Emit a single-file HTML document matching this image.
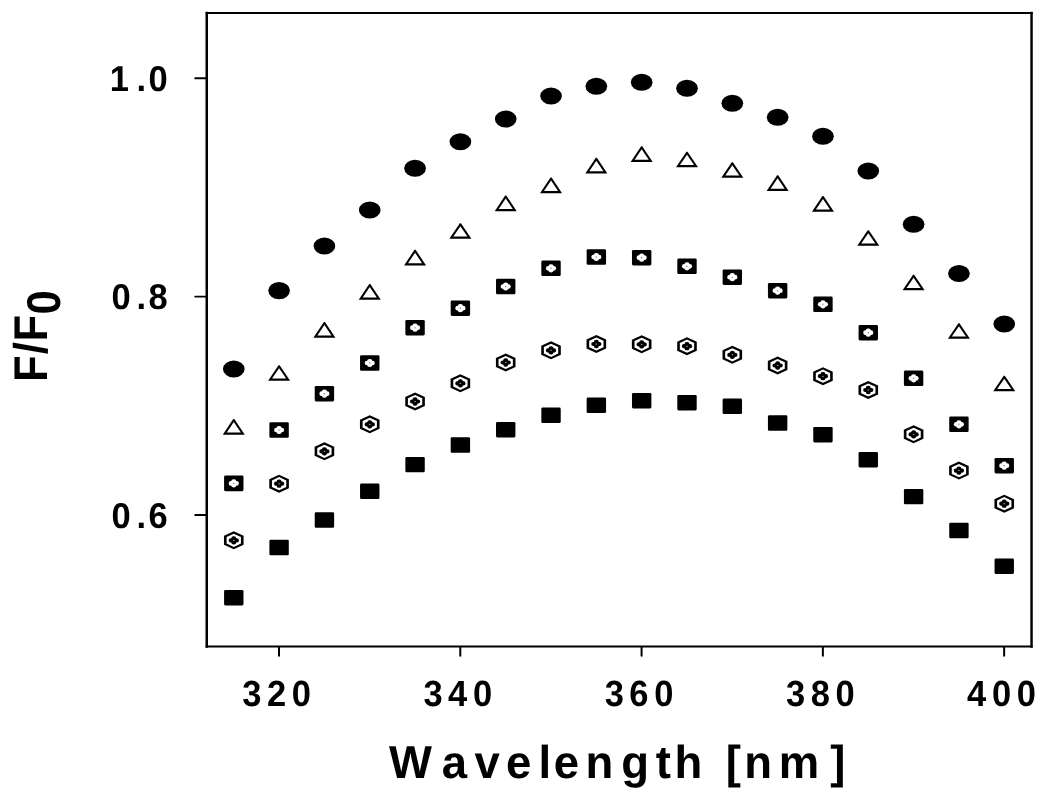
<!DOCTYPE html>
<html lang="en">
<head>
<meta charset="utf-8">
<title>F/F0 vs Wavelength</title>
<style>
html,body{margin:0;padding:0;background:#fff;}
body{width:1050px;height:798px;overflow:hidden;}
svg{display:block;}
text{font-family:"Liberation Sans",Arial,Helvetica,sans-serif;font-weight:bold;fill:#000;font-kerning:none;text-rendering:geometricPrecision;}
.tk{font-size:34.5px;}
.tt{font-size:45.5px;}
</style>
</head>
<body>
<svg width="1050" height="798" viewBox="0 0 1050 798">
<rect width="1050" height="798" fill="#fff"/>

<g stroke="#000" fill="none">
<path d="M206.75,12.97 L206.75,646.45" stroke-width="2.5" stroke-linecap="square"/>
<path d="M206.75,646.45 L1031.55,646.45" stroke-width="2.1" stroke-linecap="square"/>
<path d="M206.75,12.97 L1031.55,12.97" stroke-width="2.05" stroke-linecap="square"/>
<path d="M1031.55,12.97 L1031.55,646.45" stroke-width="2.45" stroke-linecap="square"/>
<line x1="195.2" y1="78.3" x2="206" y2="78.3" stroke-width="1.9" stroke-linecap="round"/>
<line x1="195.2" y1="296.6" x2="206" y2="296.6" stroke-width="1.9" stroke-linecap="round"/>
<line x1="195.2" y1="515.0" x2="206" y2="515.0" stroke-width="1.9" stroke-linecap="round"/>
<line x1="279.00" y1="647" x2="279.00" y2="655.8" stroke-width="2" stroke-linecap="round"/>
<line x1="460.29" y1="647" x2="460.29" y2="655.8" stroke-width="2" stroke-linecap="round"/>
<line x1="641.58" y1="647" x2="641.58" y2="655.8" stroke-width="2" stroke-linecap="round"/>
<line x1="822.86" y1="647" x2="822.86" y2="655.8" stroke-width="2" stroke-linecap="round"/>
<line x1="1004.15" y1="647" x2="1004.15" y2="655.8" stroke-width="2" stroke-linecap="round"/>
</g>
<g class="circles">
<g transform="translate(233.78,369.0)"><ellipse cx="0" cy="0" rx="10.85" ry="8.55" fill="#000"/></g>
<g transform="translate(279.10,290.6)"><ellipse cx="0" cy="0" rx="10.85" ry="8.55" fill="#000"/></g>
<g transform="translate(324.42,246.0)"><ellipse cx="0" cy="0" rx="10.85" ry="8.55" fill="#000"/></g>
<g transform="translate(369.75,210.0)"><ellipse cx="0" cy="0" rx="10.85" ry="8.55" fill="#000"/></g>
<g transform="translate(415.07,168.3)"><ellipse cx="0" cy="0" rx="10.85" ry="8.55" fill="#000"/></g>
<g transform="translate(460.39,141.7)"><ellipse cx="0" cy="0" rx="10.85" ry="8.55" fill="#000"/></g>
<g transform="translate(505.71,119.0)"><ellipse cx="0" cy="0" rx="10.85" ry="8.55" fill="#000"/></g>
<g transform="translate(551.03,96.0)"><ellipse cx="0" cy="0" rx="10.85" ry="8.55" fill="#000"/></g>
<g transform="translate(596.35,86.2)"><ellipse cx="0" cy="0" rx="10.85" ry="8.55" fill="#000"/></g>
<g transform="translate(641.68,82.3)"><ellipse cx="0" cy="0" rx="10.85" ry="8.55" fill="#000"/></g>
<g transform="translate(687.00,88.3)"><ellipse cx="0" cy="0" rx="10.85" ry="8.55" fill="#000"/></g>
<g transform="translate(732.32,103.3)"><ellipse cx="0" cy="0" rx="10.85" ry="8.55" fill="#000"/></g>
<g transform="translate(777.64,117.3)"><ellipse cx="0" cy="0" rx="10.85" ry="8.55" fill="#000"/></g>
<g transform="translate(822.96,136.3)"><ellipse cx="0" cy="0" rx="10.85" ry="8.55" fill="#000"/></g>
<g transform="translate(868.28,171.0)"><ellipse cx="0" cy="0" rx="10.85" ry="8.55" fill="#000"/></g>
<g transform="translate(913.61,224.3)"><ellipse cx="0" cy="0" rx="10.85" ry="8.55" fill="#000"/></g>
<g transform="translate(958.93,273.5)"><ellipse cx="0" cy="0" rx="10.85" ry="8.55" fill="#000"/></g>
<g transform="translate(1004.25,324.0)"><ellipse cx="0" cy="0" rx="10.85" ry="8.55" fill="#000"/></g>
</g>
<g class="triangles">
<g transform="translate(233.78,426.8)"><polygon points="-0.55,-7.85 0.55,-7.85 10.85,7.6 10.6,7.85 -10.6,7.85 -10.85,7.6" fill="#000"/><polygon points="0,-4.85 7.05,5.6 -7.05,5.6" fill="#fff"/></g>
<g transform="translate(279.10,373.0)"><polygon points="-0.55,-7.85 0.55,-7.85 10.85,7.6 10.6,7.85 -10.6,7.85 -10.85,7.6" fill="#000"/><polygon points="0,-4.85 7.05,5.6 -7.05,5.6" fill="#fff"/></g>
<g transform="translate(324.42,329.8)"><polygon points="-0.55,-7.85 0.55,-7.85 10.85,7.6 10.6,7.85 -10.6,7.85 -10.85,7.6" fill="#000"/><polygon points="0,-4.85 7.05,5.6 -7.05,5.6" fill="#fff"/></g>
<g transform="translate(369.75,291.8)"><polygon points="-0.55,-7.85 0.55,-7.85 10.85,7.6 10.6,7.85 -10.6,7.85 -10.85,7.6" fill="#000"/><polygon points="0,-4.85 7.05,5.6 -7.05,5.6" fill="#fff"/></g>
<g transform="translate(415.07,257.6)"><polygon points="-0.55,-7.85 0.55,-7.85 10.85,7.6 10.6,7.85 -10.6,7.85 -10.85,7.6" fill="#000"/><polygon points="0,-4.85 7.05,5.6 -7.05,5.6" fill="#fff"/></g>
<g transform="translate(460.39,231.0)"><polygon points="-0.55,-7.85 0.55,-7.85 10.85,7.6 10.6,7.85 -10.6,7.85 -10.85,7.6" fill="#000"/><polygon points="0,-4.85 7.05,5.6 -7.05,5.6" fill="#fff"/></g>
<g transform="translate(505.71,203.3)"><polygon points="-0.55,-7.85 0.55,-7.85 10.85,7.6 10.6,7.85 -10.6,7.85 -10.85,7.6" fill="#000"/><polygon points="0,-4.85 7.05,5.6 -7.05,5.6" fill="#fff"/></g>
<g transform="translate(551.03,185.3)"><polygon points="-0.55,-7.85 0.55,-7.85 10.85,7.6 10.6,7.85 -10.6,7.85 -10.85,7.6" fill="#000"/><polygon points="0,-4.85 7.05,5.6 -7.05,5.6" fill="#fff"/></g>
<g transform="translate(596.35,165.7)"><polygon points="-0.55,-7.85 0.55,-7.85 10.85,7.6 10.6,7.85 -10.6,7.85 -10.85,7.6" fill="#000"/><polygon points="0,-4.85 7.05,5.6 -7.05,5.6" fill="#fff"/></g>
<g transform="translate(641.68,154.2)"><polygon points="-0.55,-7.85 0.55,-7.85 10.85,7.6 10.6,7.85 -10.6,7.85 -10.85,7.6" fill="#000"/><polygon points="0,-4.85 7.05,5.6 -7.05,5.6" fill="#fff"/></g>
<g transform="translate(687.00,159.5)"><polygon points="-0.55,-7.85 0.55,-7.85 10.85,7.6 10.6,7.85 -10.6,7.85 -10.85,7.6" fill="#000"/><polygon points="0,-4.85 7.05,5.6 -7.05,5.6" fill="#fff"/></g>
<g transform="translate(732.32,170.0)"><polygon points="-0.55,-7.85 0.55,-7.85 10.85,7.6 10.6,7.85 -10.6,7.85 -10.85,7.6" fill="#000"/><polygon points="0,-4.85 7.05,5.6 -7.05,5.6" fill="#fff"/></g>
<g transform="translate(777.64,183.2)"><polygon points="-0.55,-7.85 0.55,-7.85 10.85,7.6 10.6,7.85 -10.6,7.85 -10.85,7.6" fill="#000"/><polygon points="0,-4.85 7.05,5.6 -7.05,5.6" fill="#fff"/></g>
<g transform="translate(822.96,203.8)"><polygon points="-0.55,-7.85 0.55,-7.85 10.85,7.6 10.6,7.85 -10.6,7.85 -10.85,7.6" fill="#000"/><polygon points="0,-4.85 7.05,5.6 -7.05,5.6" fill="#fff"/></g>
<g transform="translate(868.28,238.0)"><polygon points="-0.55,-7.85 0.55,-7.85 10.85,7.6 10.6,7.85 -10.6,7.85 -10.85,7.6" fill="#000"/><polygon points="0,-4.85 7.05,5.6 -7.05,5.6" fill="#fff"/></g>
<g transform="translate(913.61,282.5)"><polygon points="-0.55,-7.85 0.55,-7.85 10.85,7.6 10.6,7.85 -10.6,7.85 -10.85,7.6" fill="#000"/><polygon points="0,-4.85 7.05,5.6 -7.05,5.6" fill="#fff"/></g>
<g transform="translate(958.93,331.0)"><polygon points="-0.55,-7.85 0.55,-7.85 10.85,7.6 10.6,7.85 -10.6,7.85 -10.85,7.6" fill="#000"/><polygon points="0,-4.85 7.05,5.6 -7.05,5.6" fill="#fff"/></g>
<g transform="translate(1004.25,383.5)"><polygon points="-0.55,-7.85 0.55,-7.85 10.85,7.6 10.6,7.85 -10.6,7.85 -10.85,7.6" fill="#000"/><polygon points="0,-4.85 7.05,5.6 -7.05,5.6" fill="#fff"/></g>
</g>
<g class="dotsquares">
<g transform="translate(233.78,483.4)"><rect x="-9.7" y="-7.8" width="19.4" height="15.6" rx="1.4" fill="#000"/><rect x="-5.05" y="-2.35" width="10.1" height="4.7" rx="2.3" fill="#fff"/><rect x="-2.6" y="-4.1" width="5.2" height="8.2" rx="2.4" fill="#fff"/><circle cx="-0.1" cy="0" r="0.75" fill="#8a8a8a"/></g>
<g transform="translate(279.10,430.0)"><rect x="-9.7" y="-7.8" width="19.4" height="15.6" rx="1.4" fill="#000"/><rect x="-5.05" y="-2.35" width="10.1" height="4.7" rx="2.3" fill="#fff"/><rect x="-2.6" y="-4.1" width="5.2" height="8.2" rx="2.4" fill="#fff"/><circle cx="-0.1" cy="0" r="0.75" fill="#8a8a8a"/></g>
<g transform="translate(324.42,393.7)"><rect x="-9.7" y="-7.8" width="19.4" height="15.6" rx="1.4" fill="#000"/><rect x="-5.05" y="-2.35" width="10.1" height="4.7" rx="2.3" fill="#fff"/><rect x="-2.6" y="-4.1" width="5.2" height="8.2" rx="2.4" fill="#fff"/><circle cx="-0.1" cy="0" r="0.75" fill="#8a8a8a"/></g>
<g transform="translate(369.75,363.0)"><rect x="-9.7" y="-7.8" width="19.4" height="15.6" rx="1.4" fill="#000"/><rect x="-5.05" y="-2.35" width="10.1" height="4.7" rx="2.3" fill="#fff"/><rect x="-2.6" y="-4.1" width="5.2" height="8.2" rx="2.4" fill="#fff"/><circle cx="-0.1" cy="0" r="0.75" fill="#8a8a8a"/></g>
<g transform="translate(415.07,327.7)"><rect x="-9.7" y="-7.8" width="19.4" height="15.6" rx="1.4" fill="#000"/><rect x="-5.05" y="-2.35" width="10.1" height="4.7" rx="2.3" fill="#fff"/><rect x="-2.6" y="-4.1" width="5.2" height="8.2" rx="2.4" fill="#fff"/><circle cx="-0.1" cy="0" r="0.75" fill="#8a8a8a"/></g>
<g transform="translate(460.39,308.2)"><rect x="-9.7" y="-7.8" width="19.4" height="15.6" rx="1.4" fill="#000"/><rect x="-5.05" y="-2.35" width="10.1" height="4.7" rx="2.3" fill="#fff"/><rect x="-2.6" y="-4.1" width="5.2" height="8.2" rx="2.4" fill="#fff"/><circle cx="-0.1" cy="0" r="0.75" fill="#8a8a8a"/></g>
<g transform="translate(505.71,286.5)"><rect x="-9.7" y="-7.8" width="19.4" height="15.6" rx="1.4" fill="#000"/><rect x="-5.05" y="-2.35" width="10.1" height="4.7" rx="2.3" fill="#fff"/><rect x="-2.6" y="-4.1" width="5.2" height="8.2" rx="2.4" fill="#fff"/><circle cx="-0.1" cy="0" r="0.75" fill="#8a8a8a"/></g>
<g transform="translate(551.03,268.3)"><rect x="-9.7" y="-7.8" width="19.4" height="15.6" rx="1.4" fill="#000"/><rect x="-5.05" y="-2.35" width="10.1" height="4.7" rx="2.3" fill="#fff"/><rect x="-2.6" y="-4.1" width="5.2" height="8.2" rx="2.4" fill="#fff"/><circle cx="-0.1" cy="0" r="0.75" fill="#8a8a8a"/></g>
<g transform="translate(596.35,257.0)"><rect x="-9.7" y="-7.8" width="19.4" height="15.6" rx="1.4" fill="#000"/><rect x="-5.05" y="-2.35" width="10.1" height="4.7" rx="2.3" fill="#fff"/><rect x="-2.6" y="-4.1" width="5.2" height="8.2" rx="2.4" fill="#fff"/><circle cx="-0.1" cy="0" r="0.75" fill="#8a8a8a"/></g>
<g transform="translate(641.68,257.7)"><rect x="-9.7" y="-7.8" width="19.4" height="15.6" rx="1.4" fill="#000"/><rect x="-5.05" y="-2.35" width="10.1" height="4.7" rx="2.3" fill="#fff"/><rect x="-2.6" y="-4.1" width="5.2" height="8.2" rx="2.4" fill="#fff"/><circle cx="-0.1" cy="0" r="0.75" fill="#8a8a8a"/></g>
<g transform="translate(687.00,266.3)"><rect x="-9.7" y="-7.8" width="19.4" height="15.6" rx="1.4" fill="#000"/><rect x="-5.05" y="-2.35" width="10.1" height="4.7" rx="2.3" fill="#fff"/><rect x="-2.6" y="-4.1" width="5.2" height="8.2" rx="2.4" fill="#fff"/><circle cx="-0.1" cy="0" r="0.75" fill="#8a8a8a"/></g>
<g transform="translate(732.32,277.2)"><rect x="-9.7" y="-7.8" width="19.4" height="15.6" rx="1.4" fill="#000"/><rect x="-5.05" y="-2.35" width="10.1" height="4.7" rx="2.3" fill="#fff"/><rect x="-2.6" y="-4.1" width="5.2" height="8.2" rx="2.4" fill="#fff"/><circle cx="-0.1" cy="0" r="0.75" fill="#8a8a8a"/></g>
<g transform="translate(777.64,290.7)"><rect x="-9.7" y="-7.8" width="19.4" height="15.6" rx="1.4" fill="#000"/><rect x="-5.05" y="-2.35" width="10.1" height="4.7" rx="2.3" fill="#fff"/><rect x="-2.6" y="-4.1" width="5.2" height="8.2" rx="2.4" fill="#fff"/><circle cx="-0.1" cy="0" r="0.75" fill="#8a8a8a"/></g>
<g transform="translate(822.96,304.3)"><rect x="-9.7" y="-7.8" width="19.4" height="15.6" rx="1.4" fill="#000"/><rect x="-5.05" y="-2.35" width="10.1" height="4.7" rx="2.3" fill="#fff"/><rect x="-2.6" y="-4.1" width="5.2" height="8.2" rx="2.4" fill="#fff"/><circle cx="-0.1" cy="0" r="0.75" fill="#8a8a8a"/></g>
<g transform="translate(868.28,332.7)"><rect x="-9.7" y="-7.8" width="19.4" height="15.6" rx="1.4" fill="#000"/><rect x="-5.05" y="-2.35" width="10.1" height="4.7" rx="2.3" fill="#fff"/><rect x="-2.6" y="-4.1" width="5.2" height="8.2" rx="2.4" fill="#fff"/><circle cx="-0.1" cy="0" r="0.75" fill="#8a8a8a"/></g>
<g transform="translate(913.61,378.3)"><rect x="-9.7" y="-7.8" width="19.4" height="15.6" rx="1.4" fill="#000"/><rect x="-5.05" y="-2.35" width="10.1" height="4.7" rx="2.3" fill="#fff"/><rect x="-2.6" y="-4.1" width="5.2" height="8.2" rx="2.4" fill="#fff"/><circle cx="-0.1" cy="0" r="0.75" fill="#8a8a8a"/></g>
<g transform="translate(958.93,424.3)"><rect x="-9.7" y="-7.8" width="19.4" height="15.6" rx="1.4" fill="#000"/><rect x="-5.05" y="-2.35" width="10.1" height="4.7" rx="2.3" fill="#fff"/><rect x="-2.6" y="-4.1" width="5.2" height="8.2" rx="2.4" fill="#fff"/><circle cx="-0.1" cy="0" r="0.75" fill="#8a8a8a"/></g>
<g transform="translate(1004.25,465.7)"><rect x="-9.7" y="-7.8" width="19.4" height="15.6" rx="1.4" fill="#000"/><rect x="-5.05" y="-2.35" width="10.1" height="4.7" rx="2.3" fill="#fff"/><rect x="-2.6" y="-4.1" width="5.2" height="8.2" rx="2.4" fill="#fff"/><circle cx="-0.1" cy="0" r="0.75" fill="#8a8a8a"/></g>
</g>
<g class="hexagons">
<g transform="translate(233.78,540.3)"><polygon points="0.00,-9.00 9.80,-4.50 9.80,4.50 0.00,9.00 -9.80,4.50 -9.80,-4.50" fill="#000"/><polygon points="0.00,-6.58 7.16,-3.29 7.16,3.29 0.00,6.58 -7.16,3.29 -7.16,-3.29" fill="#fff"/><rect x="-5.1" y="-2.1" width="10.2" height="4.2" rx="2.0" fill="#000"/><rect x="-2.45" y="-4.15" width="4.9" height="8.3" rx="2.2" fill="#000"/><ellipse cx="0" cy="0" rx="0.8" ry="0.5" fill="#c8c8c8"/></g>
<g transform="translate(279.10,483.7)"><polygon points="0.00,-9.00 9.80,-4.50 9.80,4.50 0.00,9.00 -9.80,4.50 -9.80,-4.50" fill="#000"/><polygon points="0.00,-6.58 7.16,-3.29 7.16,3.29 0.00,6.58 -7.16,3.29 -7.16,-3.29" fill="#fff"/><rect x="-5.1" y="-2.1" width="10.2" height="4.2" rx="2.0" fill="#000"/><rect x="-2.45" y="-4.15" width="4.9" height="8.3" rx="2.2" fill="#000"/><ellipse cx="0" cy="0" rx="0.8" ry="0.5" fill="#c8c8c8"/></g>
<g transform="translate(324.42,451.3)"><polygon points="0.00,-9.00 9.80,-4.50 9.80,4.50 0.00,9.00 -9.80,4.50 -9.80,-4.50" fill="#000"/><polygon points="0.00,-6.58 7.16,-3.29 7.16,3.29 0.00,6.58 -7.16,3.29 -7.16,-3.29" fill="#fff"/><rect x="-5.1" y="-2.1" width="10.2" height="4.2" rx="2.0" fill="#000"/><rect x="-2.45" y="-4.15" width="4.9" height="8.3" rx="2.2" fill="#000"/><ellipse cx="0" cy="0" rx="0.8" ry="0.5" fill="#c8c8c8"/></g>
<g transform="translate(369.75,424.3)"><polygon points="0.00,-9.00 9.80,-4.50 9.80,4.50 0.00,9.00 -9.80,4.50 -9.80,-4.50" fill="#000"/><polygon points="0.00,-6.58 7.16,-3.29 7.16,3.29 0.00,6.58 -7.16,3.29 -7.16,-3.29" fill="#fff"/><rect x="-5.1" y="-2.1" width="10.2" height="4.2" rx="2.0" fill="#000"/><rect x="-2.45" y="-4.15" width="4.9" height="8.3" rx="2.2" fill="#000"/><ellipse cx="0" cy="0" rx="0.8" ry="0.5" fill="#c8c8c8"/></g>
<g transform="translate(415.07,401.5)"><polygon points="0.00,-9.00 9.80,-4.50 9.80,4.50 0.00,9.00 -9.80,4.50 -9.80,-4.50" fill="#000"/><polygon points="0.00,-6.58 7.16,-3.29 7.16,3.29 0.00,6.58 -7.16,3.29 -7.16,-3.29" fill="#fff"/><rect x="-5.1" y="-2.1" width="10.2" height="4.2" rx="2.0" fill="#000"/><rect x="-2.45" y="-4.15" width="4.9" height="8.3" rx="2.2" fill="#000"/><ellipse cx="0" cy="0" rx="0.8" ry="0.5" fill="#c8c8c8"/></g>
<g transform="translate(460.39,383.3)"><polygon points="0.00,-9.00 9.80,-4.50 9.80,4.50 0.00,9.00 -9.80,4.50 -9.80,-4.50" fill="#000"/><polygon points="0.00,-6.58 7.16,-3.29 7.16,3.29 0.00,6.58 -7.16,3.29 -7.16,-3.29" fill="#fff"/><rect x="-5.1" y="-2.1" width="10.2" height="4.2" rx="2.0" fill="#000"/><rect x="-2.45" y="-4.15" width="4.9" height="8.3" rx="2.2" fill="#000"/><ellipse cx="0" cy="0" rx="0.8" ry="0.5" fill="#c8c8c8"/></g>
<g transform="translate(505.71,362.5)"><polygon points="0.00,-9.00 9.80,-4.50 9.80,4.50 0.00,9.00 -9.80,4.50 -9.80,-4.50" fill="#000"/><polygon points="0.00,-6.58 7.16,-3.29 7.16,3.29 0.00,6.58 -7.16,3.29 -7.16,-3.29" fill="#fff"/><rect x="-5.1" y="-2.1" width="10.2" height="4.2" rx="2.0" fill="#000"/><rect x="-2.45" y="-4.15" width="4.9" height="8.3" rx="2.2" fill="#000"/><ellipse cx="0" cy="0" rx="0.8" ry="0.5" fill="#c8c8c8"/></g>
<g transform="translate(551.03,350.3)"><polygon points="0.00,-9.00 9.80,-4.50 9.80,4.50 0.00,9.00 -9.80,4.50 -9.80,-4.50" fill="#000"/><polygon points="0.00,-6.58 7.16,-3.29 7.16,3.29 0.00,6.58 -7.16,3.29 -7.16,-3.29" fill="#fff"/><rect x="-5.1" y="-2.1" width="10.2" height="4.2" rx="2.0" fill="#000"/><rect x="-2.45" y="-4.15" width="4.9" height="8.3" rx="2.2" fill="#000"/><ellipse cx="0" cy="0" rx="0.8" ry="0.5" fill="#c8c8c8"/></g>
<g transform="translate(596.35,344.0)"><polygon points="0.00,-9.00 9.80,-4.50 9.80,4.50 0.00,9.00 -9.80,4.50 -9.80,-4.50" fill="#000"/><polygon points="0.00,-6.58 7.16,-3.29 7.16,3.29 0.00,6.58 -7.16,3.29 -7.16,-3.29" fill="#fff"/><rect x="-5.1" y="-2.1" width="10.2" height="4.2" rx="2.0" fill="#000"/><rect x="-2.45" y="-4.15" width="4.9" height="8.3" rx="2.2" fill="#000"/><ellipse cx="0" cy="0" rx="0.8" ry="0.5" fill="#c8c8c8"/></g>
<g transform="translate(641.68,344.3)"><polygon points="0.00,-9.00 9.80,-4.50 9.80,4.50 0.00,9.00 -9.80,4.50 -9.80,-4.50" fill="#000"/><polygon points="0.00,-6.58 7.16,-3.29 7.16,3.29 0.00,6.58 -7.16,3.29 -7.16,-3.29" fill="#fff"/><rect x="-5.1" y="-2.1" width="10.2" height="4.2" rx="2.0" fill="#000"/><rect x="-2.45" y="-4.15" width="4.9" height="8.3" rx="2.2" fill="#000"/><ellipse cx="0" cy="0" rx="0.8" ry="0.5" fill="#c8c8c8"/></g>
<g transform="translate(687.00,346.2)"><polygon points="0.00,-9.00 9.80,-4.50 9.80,4.50 0.00,9.00 -9.80,4.50 -9.80,-4.50" fill="#000"/><polygon points="0.00,-6.58 7.16,-3.29 7.16,3.29 0.00,6.58 -7.16,3.29 -7.16,-3.29" fill="#fff"/><rect x="-5.1" y="-2.1" width="10.2" height="4.2" rx="2.0" fill="#000"/><rect x="-2.45" y="-4.15" width="4.9" height="8.3" rx="2.2" fill="#000"/><ellipse cx="0" cy="0" rx="0.8" ry="0.5" fill="#c8c8c8"/></g>
<g transform="translate(732.32,354.8)"><polygon points="0.00,-9.00 9.80,-4.50 9.80,4.50 0.00,9.00 -9.80,4.50 -9.80,-4.50" fill="#000"/><polygon points="0.00,-6.58 7.16,-3.29 7.16,3.29 0.00,6.58 -7.16,3.29 -7.16,-3.29" fill="#fff"/><rect x="-5.1" y="-2.1" width="10.2" height="4.2" rx="2.0" fill="#000"/><rect x="-2.45" y="-4.15" width="4.9" height="8.3" rx="2.2" fill="#000"/><ellipse cx="0" cy="0" rx="0.8" ry="0.5" fill="#c8c8c8"/></g>
<g transform="translate(777.64,365.5)"><polygon points="0.00,-9.00 9.80,-4.50 9.80,4.50 0.00,9.00 -9.80,4.50 -9.80,-4.50" fill="#000"/><polygon points="0.00,-6.58 7.16,-3.29 7.16,3.29 0.00,6.58 -7.16,3.29 -7.16,-3.29" fill="#fff"/><rect x="-5.1" y="-2.1" width="10.2" height="4.2" rx="2.0" fill="#000"/><rect x="-2.45" y="-4.15" width="4.9" height="8.3" rx="2.2" fill="#000"/><ellipse cx="0" cy="0" rx="0.8" ry="0.5" fill="#c8c8c8"/></g>
<g transform="translate(822.96,376.2)"><polygon points="0.00,-9.00 9.80,-4.50 9.80,4.50 0.00,9.00 -9.80,4.50 -9.80,-4.50" fill="#000"/><polygon points="0.00,-6.58 7.16,-3.29 7.16,3.29 0.00,6.58 -7.16,3.29 -7.16,-3.29" fill="#fff"/><rect x="-5.1" y="-2.1" width="10.2" height="4.2" rx="2.0" fill="#000"/><rect x="-2.45" y="-4.15" width="4.9" height="8.3" rx="2.2" fill="#000"/><ellipse cx="0" cy="0" rx="0.8" ry="0.5" fill="#c8c8c8"/></g>
<g transform="translate(868.28,390.0)"><polygon points="0.00,-9.00 9.80,-4.50 9.80,4.50 0.00,9.00 -9.80,4.50 -9.80,-4.50" fill="#000"/><polygon points="0.00,-6.58 7.16,-3.29 7.16,3.29 0.00,6.58 -7.16,3.29 -7.16,-3.29" fill="#fff"/><rect x="-5.1" y="-2.1" width="10.2" height="4.2" rx="2.0" fill="#000"/><rect x="-2.45" y="-4.15" width="4.9" height="8.3" rx="2.2" fill="#000"/><ellipse cx="0" cy="0" rx="0.8" ry="0.5" fill="#c8c8c8"/></g>
<g transform="translate(913.61,434.3)"><polygon points="0.00,-9.00 9.80,-4.50 9.80,4.50 0.00,9.00 -9.80,4.50 -9.80,-4.50" fill="#000"/><polygon points="0.00,-6.58 7.16,-3.29 7.16,3.29 0.00,6.58 -7.16,3.29 -7.16,-3.29" fill="#fff"/><rect x="-5.1" y="-2.1" width="10.2" height="4.2" rx="2.0" fill="#000"/><rect x="-2.45" y="-4.15" width="4.9" height="8.3" rx="2.2" fill="#000"/><ellipse cx="0" cy="0" rx="0.8" ry="0.5" fill="#c8c8c8"/></g>
<g transform="translate(958.93,470.6)"><polygon points="0.00,-9.00 9.80,-4.50 9.80,4.50 0.00,9.00 -9.80,4.50 -9.80,-4.50" fill="#000"/><polygon points="0.00,-6.58 7.16,-3.29 7.16,3.29 0.00,6.58 -7.16,3.29 -7.16,-3.29" fill="#fff"/><rect x="-5.1" y="-2.1" width="10.2" height="4.2" rx="2.0" fill="#000"/><rect x="-2.45" y="-4.15" width="4.9" height="8.3" rx="2.2" fill="#000"/><ellipse cx="0" cy="0" rx="0.8" ry="0.5" fill="#c8c8c8"/></g>
<g transform="translate(1004.25,503.7)"><polygon points="0.00,-9.00 9.80,-4.50 9.80,4.50 0.00,9.00 -9.80,4.50 -9.80,-4.50" fill="#000"/><polygon points="0.00,-6.58 7.16,-3.29 7.16,3.29 0.00,6.58 -7.16,3.29 -7.16,-3.29" fill="#fff"/><rect x="-5.1" y="-2.1" width="10.2" height="4.2" rx="2.0" fill="#000"/><rect x="-2.45" y="-4.15" width="4.9" height="8.3" rx="2.2" fill="#000"/><ellipse cx="0" cy="0" rx="0.8" ry="0.5" fill="#c8c8c8"/></g>
</g>
<g class="squares">
<g transform="translate(233.78,597.7)"><rect x="-9.7" y="-7.7" width="19.4" height="15.4" rx="1.3" fill="#000"/></g>
<g transform="translate(279.10,547.5)"><rect x="-9.7" y="-7.7" width="19.4" height="15.4" rx="1.3" fill="#000"/></g>
<g transform="translate(324.42,520.0)"><rect x="-9.7" y="-7.7" width="19.4" height="15.4" rx="1.3" fill="#000"/></g>
<g transform="translate(369.75,491.3)"><rect x="-9.7" y="-7.7" width="19.4" height="15.4" rx="1.3" fill="#000"/></g>
<g transform="translate(415.07,464.6)"><rect x="-9.7" y="-7.7" width="19.4" height="15.4" rx="1.3" fill="#000"/></g>
<g transform="translate(460.39,445.0)"><rect x="-9.7" y="-7.7" width="19.4" height="15.4" rx="1.3" fill="#000"/></g>
<g transform="translate(505.71,429.7)"><rect x="-9.7" y="-7.7" width="19.4" height="15.4" rx="1.3" fill="#000"/></g>
<g transform="translate(551.03,415.3)"><rect x="-9.7" y="-7.7" width="19.4" height="15.4" rx="1.3" fill="#000"/></g>
<g transform="translate(596.35,405.3)"><rect x="-9.7" y="-7.7" width="19.4" height="15.4" rx="1.3" fill="#000"/></g>
<g transform="translate(641.68,400.7)"><rect x="-9.7" y="-7.7" width="19.4" height="15.4" rx="1.3" fill="#000"/></g>
<g transform="translate(687.00,402.7)"><rect x="-9.7" y="-7.7" width="19.4" height="15.4" rx="1.3" fill="#000"/></g>
<g transform="translate(732.32,406.3)"><rect x="-9.7" y="-7.7" width="19.4" height="15.4" rx="1.3" fill="#000"/></g>
<g transform="translate(777.64,423.0)"><rect x="-9.7" y="-7.7" width="19.4" height="15.4" rx="1.3" fill="#000"/></g>
<g transform="translate(822.96,434.7)"><rect x="-9.7" y="-7.7" width="19.4" height="15.4" rx="1.3" fill="#000"/></g>
<g transform="translate(868.28,459.7)"><rect x="-9.7" y="-7.7" width="19.4" height="15.4" rx="1.3" fill="#000"/></g>
<g transform="translate(913.61,496.6)"><rect x="-9.7" y="-7.7" width="19.4" height="15.4" rx="1.3" fill="#000"/></g>
<g transform="translate(958.93,530.5)"><rect x="-9.7" y="-7.7" width="19.4" height="15.4" rx="1.3" fill="#000"/></g>
<g transform="translate(1004.25,566.2)"><rect x="-9.7" y="-7.7" width="19.4" height="15.4" rx="1.3" fill="#000"/></g>
</g>
<text class="tk" transform="translate(0,91.1) scale(1,1.04)" x="109.77 136.42 148.43" y="0">1.0</text>
<text class="tk" transform="translate(0,309.4) scale(1,1.04)" x="111.43 136.42 148.39" y="0">0.8</text>
<text class="tk" transform="translate(0,527.8) scale(1,1.04)" x="111.43 136.42 148.60" y="0">0.6</text>
<text class="tk" transform="translate(0,705.6) scale(1,1.055)" x="242.24 266.90 291.63" y="0">320</text>
<text class="tk" transform="translate(0,705.6) scale(1,1.055)" x="423.52 447.93 472.92" y="0">340</text>
<text class="tk" transform="translate(0,705.6) scale(1,1.055)" x="604.81 629.37 654.21" y="0">360</text>
<text class="tk" transform="translate(0,705.6) scale(1,1.055)" x="786.10 810.65 835.49" y="0">380</text>
<text class="tk" transform="translate(0,705.6) scale(1,1.055)" x="966.99 991.98 1016.78" y="0">400</text>
<text class="tt" transform="translate(0,777.8) scale(1,1.015)" x="389.03 441.64 474.56 505.94 538.40 553.74 585.51 621.19 655.72 674.43 700.00 725.72 744.21 778.68 830.32" y="0">Wavelength [nm]</text>
<text class="tt" transform="translate(46.8,400) rotate(-90) scale(0.955,1.04)" x="18.82 47.87 61.28" y="0">F/F<tspan x="89.58" dy="12.8">0</tspan></text>
</svg>
</body>
</html>
